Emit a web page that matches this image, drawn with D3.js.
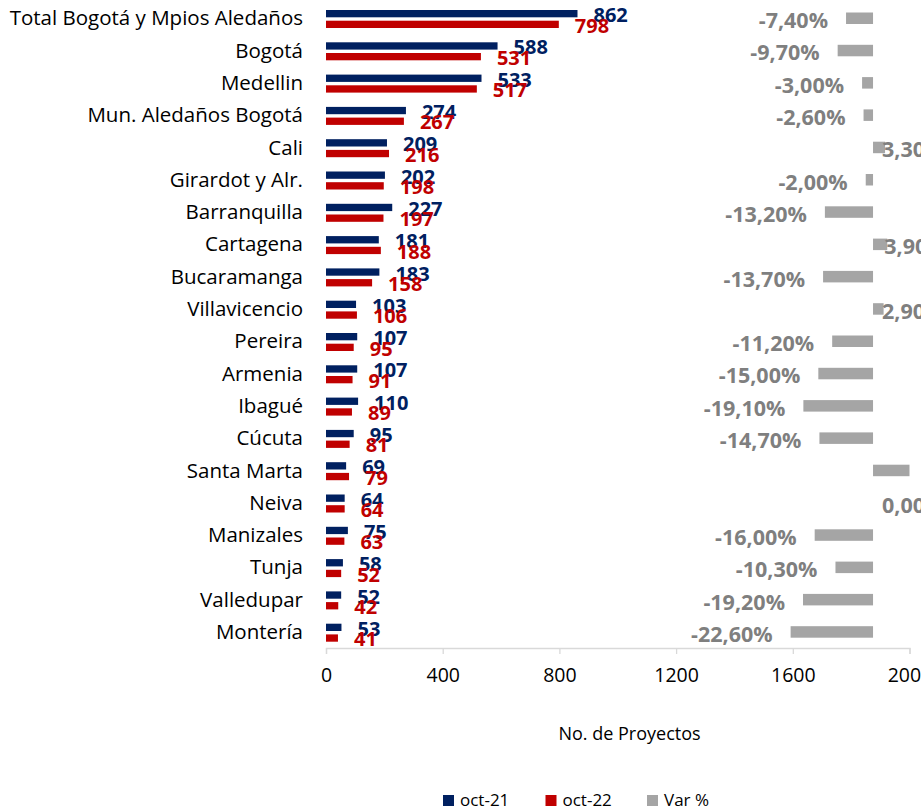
<!DOCTYPE html>
<html>
<head>
<meta charset="utf-8">
<script src="https://cdn.jsdelivr.net/npm/d3@7"></script>
<style>
  html, body { margin: 0; padding: 0; background: #fff; }
  svg { display: block; }
  text { font-family: "Open Sans", "Noto Sans", sans-serif; }
</style>
</head>
<body>
<div id="chart"></div>
<script>
const categories = ["Total Bogotá y Mpios Aledaños","Bogotá","Medellin","Mun. Aledaños Bogotá","Cali","Girardot y Alr.","Barranquilla","Cartagena","Bucaramanga","Villavicencio","Pereira","Armenia","Ibagué","Cúcuta","Santa Marta","Neiva","Manizales","Tunja","Valledupar","Montería"];
const oct21 = [862,588,533,274,209,202,227,181,183,103,107,107,110,95,69,64,75,58,52,53];
const oct22 = [798,531,517,267,216,198,197,188,158,106,95,91,89,81,79,64,63,52,42,41];
const varPct = [-7.4,-9.7,-3.0,-2.6,3.3,-2.0,-13.2,3.9,-13.7,2.9,-11.2,-15.0,-19.1,-14.7,14.5,0.0,-16.0,-10.3,-19.2,-22.6];
const xTicks = [0,400,800,1200,1600,2000];
const seriesNames = ["oct-21","oct-22","Var %"];
const colors = {"oct-21":"#002060","oct-22":"#C00000","Var %":"#A5A5A5"};

const W = 921, H = 811;
const plot = {left: 326, right: 909.5, top: 2, bottom: 648};

const svg = d3.select("#chart").append("svg").attr("width", W).attr("height", H);

const x = d3.scaleLinear().domain([0, 2000]).range([plot.left, plot.right]);
const x2 = d3.scaleLinear().domain([-150, 10]).range([plot.left, plot.right]);
const y = d3.scaleBand().domain(categories).range([plot.top, plot.bottom]).paddingInner(0).paddingOuter(0);
const bw = y.bandwidth();

svg.append("defs").append("clipPath").attr("id","plotclip")
  .append("rect").attr("x", plot.left).attr("y", plot.top)
  .attr("width", plot.right - plot.left).attr("height", plot.bottom - plot.top);

// Axis
const axis = d3.axisBottom(x).tickValues(xTicks).tickSize(6).tickPadding(14).tickFormat(d3.format("d"));
const gAxis = svg.append("g").attr("transform", `translate(0,${plot.bottom})`).call(axis);
gAxis.select(".domain").attr("stroke", "#d9d9d9").attr("stroke-width", 1.3);
gAxis.selectAll(".tick line").attr("stroke", "#d9d9d9").attr("stroke-width", 1.3);
gAxis.selectAll(".tick text").attr("font-size", 19.5).attr("fill", "#000")
  .attr("font-family", '"Open Sans", sans-serif');

// Category labels
svg.append("g").selectAll("text").data(categories).join("text")
  .attr("x", 303).attr("y", d => y(d) + bw / 2).attr("dy", "0.35em")
  .attr("text-anchor", "end").attr("font-size", 20.5).attr("fill", "#000")
  .text(d => d);

const barH = 7.3;
const offBlue = 8, offRed = 18.7;

// oct-21 bars
svg.append("g").selectAll("rect").data(categories).join("rect")
  .attr("x", x(0)).attr("y", d => y(d) + offBlue)
  .attr("width", (d, i) => x(oct21[i]) - x(0)).attr("height", barH)
  .attr("fill", colors["oct-21"]);
// oct-22 bars
svg.append("g").selectAll("rect").data(categories).join("rect")
  .attr("x", x(0)).attr("y", d => y(d) + offRed)
  .attr("width", (d, i) => x(oct22[i]) - x(0)).attr("height", barH)
  .attr("fill", colors["oct-22"]);

// Var % bars (secondary axis)
svg.append("g").attr("clip-path", "url(#plotclip)").selectAll("rect").data(categories).join("rect")
  .attr("x", (d, i) => Math.min(x2(0), x2(varPct[i])))
  .attr("y", d => y(d) + 10.5)
  .attr("width", (d, i) => Math.abs(x2(varPct[i]) - x2(0)))
  .attr("height", 11.5)
  .attr("fill", colors["Var %"]);

// value labels oct-21
svg.append("g").selectAll("text").data(categories).join("text")
  .attr("x", (d, i) => x(oct21[i]) + 16)
  .attr("y", d => y(d) + offBlue + barH / 2 + 8.5)
  .attr("font-size", 20).attr("font-weight", 700).attr("fill", colors["oct-21"])
  .text((d, i) => oct21[i]);
// value labels oct-22
svg.append("g").selectAll("text").data(categories).join("text")
  .attr("x", (d, i) => x(oct22[i]) + 16)
  .attr("y", d => y(d) + offRed + barH / 2 + 8.2)
  .attr("font-size", 20).attr("font-weight", 700).attr("fill", colors["oct-22"])
  .text((d, i) => oct22[i]);

// Var % labels
const fmtPct = v => v.toFixed(2).replace(".", ",") + "%";
svg.append("g").selectAll("text").data(categories).join("text")
  .attr("x", (d, i) => varPct[i] < 0 ? x2(varPct[i]) - 18 : Math.max(x2(varPct[i]) - 3, x2(0) + 9))
  .attr("y", d => y(d) + bw / 2 + 10)
  .attr("text-anchor", (d, i) => varPct[i] < 0 ? "end" : "start")
  .attr("font-size", 21.5).attr("font-weight", 700).attr("fill", "#7F7F7F")
  .text((d, i) => fmtPct(varPct[i]));

// Axis title
svg.append("text").attr("x", 629.5).attr("y", 740).attr("text-anchor", "middle")
  .attr("font-size", 18).attr("fill", "#000").text("No. de Proyectos");

// Legend
const legendX = [443, 545.5, 647];
const lg = svg.append("g").selectAll("g").data(seriesNames).join("g")
  .attr("transform", (d, i) => `translate(${legendX[i]},0)`);
lg.append("rect").attr("x", 0).attr("y", 795).attr("width", 11).attr("height", 11)
  .attr("fill", d => colors[d]);
lg.append("text").attr("x", 17).attr("y", 806).attr("font-size", 17).attr("fill", "#000")
  .text(d => d);
</script>
</body>
</html>
